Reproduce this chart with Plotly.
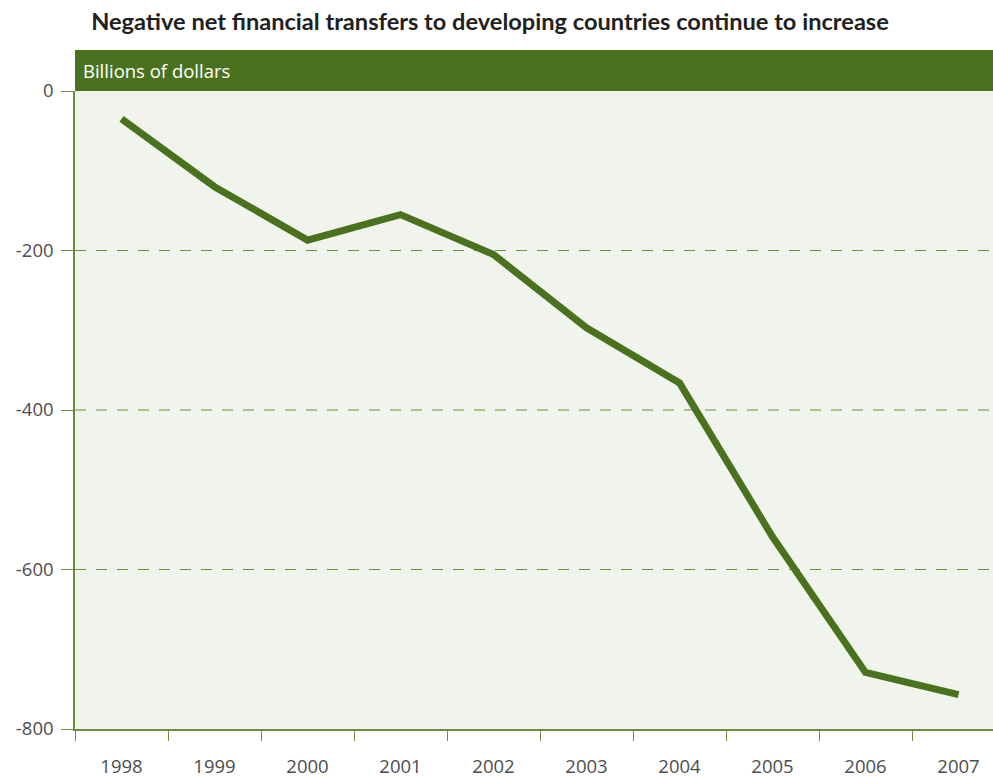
import plotly.graph_objects as go

# Net financial transfers to developing countries, billions of dollars
years = ["1998", "1999", "2000", "2001", "2002", "2003", "2004", "2005", "2006", "2007"]
transfers = [-35, -120, -187, -155, -205, -297, -366, -559, -729, -757]

y_ticks = [0, -200, -400, -600, -800]

W, H = 993, 777
ML, MR, MT, MB = 75, 0, 91, 48
plot_h = H - MT - MB

GREEN = "#4a721e"
AXIS_GREEN = "#6b8f3e"
LABEL_GREY = "#4d4d4d"

fig = go.Figure()
fig.add_trace(go.Scatter(
    x=years, y=transfers, mode="lines",
    line=dict(color=GREEN, width=7),
    hoverinfo="x+y", showlegend=False,
))

# Green header band above the plotting area
band_px = 41
fig.add_shape(type="rect", xref="paper", yref="paper",
              x0=0, x1=1, y0=1, y1=1 + band_px / plot_h,
              fillcolor=GREEN, line=dict(width=0), layer="above")
fig.add_annotation(xref="paper", yref="paper", x=0, y=1 + band_px / plot_h / 2,
                   xshift=6, xanchor="left", yanchor="middle", showarrow=False,
                   text="Billions of dollars",
                   font=dict(family="Open Sans", size=18.5, color="white"))

# Dashed reference lines
for v in y_ticks[1:-1]:
    fig.add_shape(type="line", xref="paper", yref="y", x0=0, x1=1, y0=v, y1=v,
                  line=dict(color=AXIS_GREEN, width=1, dash="11px,10px"), layer="below")

# Category slots are 93 px wide; the plot area runs to the right edge of the page
slot_px = 93.0

fig.update_layout(
    width=W, height=H,
    margin=dict(l=ML, r=MR, t=MT, b=MB, pad=0),
    paper_bgcolor="white", plot_bgcolor="#f1f4ed",
    title=dict(text="<b>Negative net financial transfers to developing countries continue to increase</b>",
               x=490 / W, xanchor="center", xref="container",
               y=1 - 22 / H, yanchor="middle", yref="container",
               font=dict(family="Lato", size=23.6, color="#231f20")),
    xaxis=dict(type="category", range=[-0.5, (W - ML) / slot_px - 0.5],
               tickson="boundaries", ticks="outside", ticklen=10, tickwidth=1.3,
               tickcolor=AXIS_GREEN, showline=True, linecolor=AXIS_GREEN, linewidth=1.5,
               showgrid=False, zeroline=False, ticklabelstandoff=20,
               tickfont=dict(family="Open Sans", size=18.5, color=LABEL_GREY)),
    yaxis=dict(range=[-800, 0], tickvals=y_ticks, ticktext=[str(v) for v in y_ticks],
               ticks="outside", ticklen=12, tickwidth=1.3, tickcolor=AXIS_GREEN,
               showline=True, linecolor=AXIS_GREEN, linewidth=1.5,
               showgrid=False, zeroline=False, ticklabelstandoff=4,
               tickfont=dict(family="Open Sans", size=18.5, color=LABEL_GREY)),
)

fig.write_html("out.html")
